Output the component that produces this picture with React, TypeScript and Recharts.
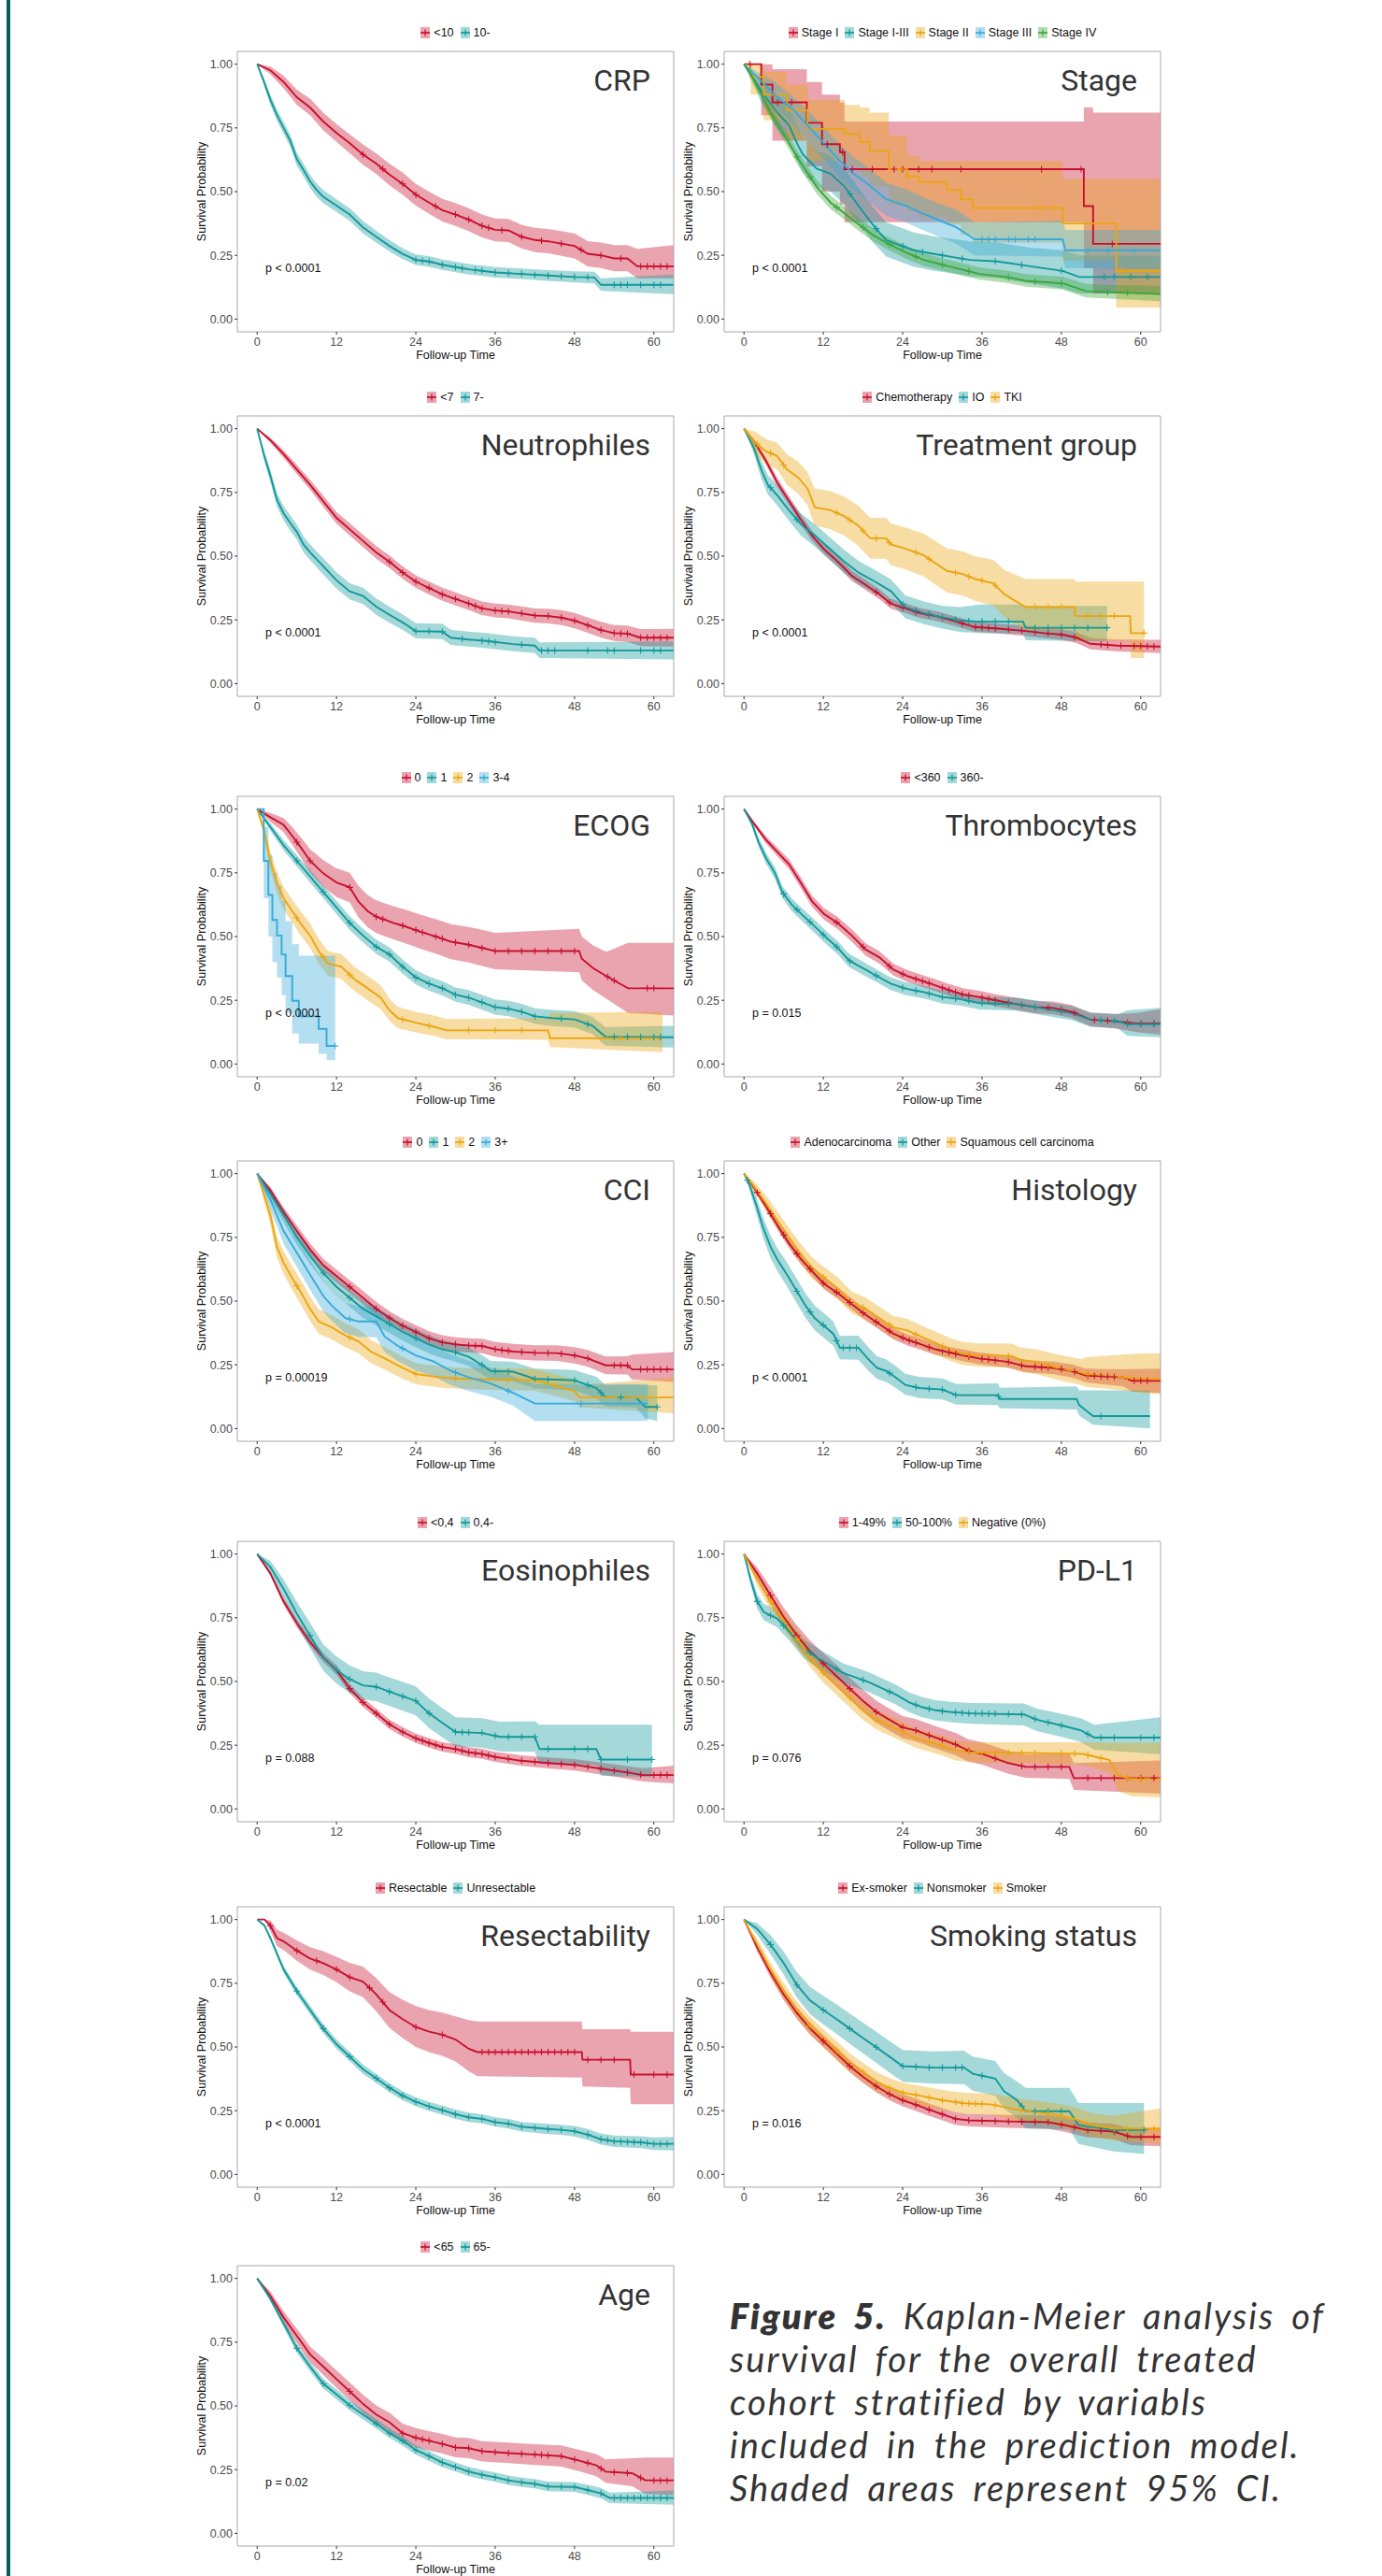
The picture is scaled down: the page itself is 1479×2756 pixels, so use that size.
import React from "react";
import { ComposedChart, XAxis, YAxis, Line, Area, Scatter, ReferenceArea } from "recharts";

// [time, survival, lower CI, upper CI]
type Pt = [number, number, number, number];
type Kind = "linear" | "stepAfter";

const RED = "#C8102E";
const TEAL = "#12999A";
const ORANGE = "#EBA511";
const BLUE = "#36AAD8";
const GREEN = "#3DA63D";
const PALETTE = [RED, TEAL, ORANGE, BLUE, GREEN];

const FONT = "'Liberation Sans', Arial, Helvetica, sans-serif";
const TITLE_FONT = "Roboto, 'Open Sans', sans-serif";
const CAPTION_FONT = "Lato, 'Open Sans', sans-serif";

const xTicks = [0, 12, 24, 36, 48, 60];
const yTicks = [0, 0.25, 0.5, 0.75, 1];

// ---- CRP ----
const crpNames = ["<10", "10-"];
const crpLow: Pt[] = [[0,1,1,1],[2,0.976,0.96,0.99],[4,0.93,0.905,0.955],[6,0.87,0.84,0.9],[8,0.83,0.8,0.865],[10,0.775,0.74,0.81],[12,0.73,0.695,0.765],[14,0.69,0.65,0.725],[16,0.646,0.605,0.685],[18,0.61,0.57,0.65],[20,0.567,0.525,0.61],[22,0.53,0.488,0.575],[24,0.488,0.445,0.53],[26,0.457,0.413,0.5],[28,0.427,0.383,0.472],[30,0.41,0.365,0.455],[32,0.39,0.345,0.435],[34,0.366,0.32,0.41],[36,0.35,0.305,0.395],[38,0.348,0.302,0.393],[40,0.323,0.277,0.37],[42,0.31,0.263,0.358],[44,0.305,0.258,0.353],[46,0.296,0.248,0.345],[48,0.287,0.238,0.336],[50,0.256,0.207,0.306],[52,0.25,0.2,0.3],[54,0.238,0.187,0.29],[56,0.238,0.187,0.29],[57.5,0.207,0.16,0.275],[63,0.207,0.16,0.29]];
const crpHigh: Pt[] = [[0,1,1,1],[1,0.933,0.92,0.946],[2,0.86,0.84,0.88],[3,0.8,0.778,0.822],[4,0.75,0.727,0.773],[5,0.7,0.676,0.724],[6,0.627,0.602,0.652],[7,0.585,0.56,0.61],[8,0.54,0.515,0.565],[9,0.506,0.48,0.532],[10,0.48,0.454,0.506],[12,0.445,0.42,0.47],[14,0.41,0.385,0.435],[16,0.36,0.336,0.385],[18,0.323,0.3,0.347],[20,0.287,0.265,0.31],[22,0.256,0.235,0.278],[24,0.232,0.212,0.253],[26,0.226,0.205,0.247],[28,0.213,0.193,0.234],[30,0.204,0.184,0.225],[32,0.195,0.175,0.216],[34,0.189,0.169,0.21],[36,0.183,0.163,0.204],[40,0.177,0.157,0.198],[44,0.171,0.15,0.192],[48,0.165,0.143,0.187],[51,0.163,0.14,0.186],[52,0.134,0.11,0.16],[63,0.134,0.098,0.175]];
const crpCens = [[16,19,22,24,27,30,32,34,35,37,40,43,46,49,52,55,58,59,60,61,62],[24,25,26,28,30,31,33,34,36,38,40,42,44,46,48,50,54,55,56,58,60,61]];

// ---- Stage ----
const stageNames = ["Stage I", "Stage I-III", "Stage II", "Stage III", "Stage IV"];
const stageKinds: Kind[] = ["stepAfter", "linear", "stepAfter", "linear", "linear"];
const stageI: Pt[] = [[0,1,1,1],[2.6,0.92,0.8,1],[4.3,0.85,0.7,0.98],[9.5,0.77,0.6,0.93],[11.8,0.686,0.5,0.88],[14.5,0.655,0.45,0.85],[15.2,0.588,0.38,0.775],[51.4,0.443,0.2,0.83],[52.8,0.295,0.1,0.81],[63,0.295,0.1,0.81]];
const stageI3: Pt[] = [[0,1,1,1],[2.6,0.896,0.85,0.94],[4.7,0.82,0.76,0.88],[6.8,0.76,0.69,0.83],[8.2,0.68,0.61,0.75],[8.9,0.646,0.575,0.715],[11,0.59,0.52,0.66],[13.1,0.57,0.5,0.64],[15.2,0.52,0.45,0.59],[17.3,0.445,0.375,0.515],[19.5,0.37,0.3,0.44],[20.8,0.33,0.265,0.4],[21.5,0.31,0.245,0.38],[23.6,0.29,0.225,0.36],[25.7,0.27,0.205,0.34],[28.6,0.256,0.19,0.325],[31.4,0.244,0.18,0.315],[34.2,0.232,0.168,0.305],[38.4,0.226,0.16,0.3],[43.3,0.207,0.14,0.28],[48.2,0.189,0.12,0.27],[50.7,0.165,0.1,0.25],[63,0.165,0.1,0.25]];
const stageII: Pt[] = [[0,1,1,1],[1,0.95,0.88,1],[3,0.88,0.78,0.97],[6.5,0.82,0.7,0.92],[9.6,0.746,0.62,0.86],[15.2,0.726,0.6,0.84],[17.5,0.695,0.56,0.83],[19,0.66,0.52,0.81],[21.9,0.588,0.45,0.72],[24.7,0.56,0.42,0.64],[26.5,0.537,0.4,0.62],[30.7,0.506,0.37,0.62],[32.8,0.47,0.33,0.62],[34.6,0.436,0.3,0.62],[48.2,0.375,0.23,0.55],[56.3,0.189,0.045,0.55],[63,0.189,0.045,0.55]];
const stageIII: Pt[] = [[0,1,1,1],[4.7,0.88,0.83,0.93],[7.5,0.82,0.76,0.87],[9.6,0.76,0.7,0.82],[11.7,0.7,0.635,0.765],[14.5,0.62,0.555,0.685],[16.6,0.57,0.505,0.635],[18.7,0.53,0.465,0.595],[21.5,0.47,0.405,0.535],[24.4,0.445,0.38,0.51],[26.5,0.42,0.355,0.485],[29.3,0.39,0.325,0.455],[32.1,0.36,0.295,0.43],[34.9,0.313,0.25,0.38],[48.2,0.313,0.245,0.385],[48.6,0.27,0.2,0.35],[63,0.27,0.195,0.35]];
const stageIV: Pt[] = [[0,1,1,1],[0.8,0.97,0.96,0.98],[2.6,0.884,0.865,0.903],[4,0.81,0.788,0.832],[5.4,0.75,0.726,0.774],[6.8,0.69,0.665,0.715],[8.2,0.628,0.602,0.654],[9.6,0.573,0.547,0.6],[11,0.518,0.492,0.545],[13.1,0.457,0.431,0.484],[15.2,0.415,0.39,0.442],[17.3,0.372,0.347,0.398],[19.5,0.33,0.306,0.356],[21.5,0.3,0.276,0.326],[24.4,0.262,0.238,0.288],[27.2,0.232,0.208,0.258],[30,0.213,0.19,0.238],[32.8,0.195,0.172,0.22],[35.6,0.177,0.154,0.202],[39.8,0.165,0.142,0.19],[42.6,0.15,0.127,0.176],[48.2,0.14,0.116,0.166],[51.7,0.11,0.085,0.138],[56.6,0.104,0.078,0.133],[63,0.098,0.07,0.13]];
const stageCens = [[0.9,5.1,7.2,12.6,14.9,16.4,19.4,22.7,24,26.4,28.4,32.8,45,51,55.7],[16,20,24,27,30,33,38,42,48,54.5,56,58.5,61],[23.8,24.8,44,45,47,57],[36,37,38,40,41,43,44,52,55,59],[8,10,14,18,22,26,30,34,40,44,48,55,58]];

// ---- Neutrophiles ----
const neuNames = ["<7", "7-"];
const neuLow: Pt[] = [[0,1,1,1],[2,0.955,0.945,0.965],[4,0.9,0.885,0.915],[6,0.84,0.822,0.858],[8,0.78,0.76,0.8],[10,0.715,0.693,0.737],[12,0.65,0.627,0.673],[14,0.605,0.581,0.629],[16,0.56,0.536,0.584],[18,0.515,0.49,0.54],[20,0.478,0.453,0.503],[22,0.436,0.411,0.461],[24,0.4,0.375,0.425],[26,0.375,0.35,0.4],[28,0.35,0.325,0.376],[30,0.332,0.307,0.358],[32,0.314,0.288,0.34],[34,0.295,0.269,0.322],[36,0.287,0.26,0.314],[38,0.283,0.256,0.31],[40,0.275,0.247,0.303],[42,0.267,0.239,0.295],[44,0.265,0.236,0.294],[46,0.259,0.23,0.288],[48,0.247,0.217,0.277],[50,0.229,0.199,0.26],[52,0.21,0.18,0.242],[54,0.198,0.167,0.23],[56,0.196,0.164,0.228],[58,0.18,0.147,0.214],[63,0.18,0.145,0.215]];
const neuHigh: Pt[] = [[0,1,1,1],[1,0.9,0.88,0.92],[2,0.814,0.79,0.838],[3,0.72,0.693,0.747],[4,0.668,0.64,0.696],[5,0.63,0.6,0.66],[6,0.595,0.565,0.625],[7,0.546,0.515,0.577],[8,0.515,0.484,0.546],[10,0.46,0.428,0.492],[12,0.405,0.373,0.437],[14,0.362,0.33,0.394],[16,0.344,0.312,0.376],[18,0.302,0.27,0.334],[20,0.27,0.239,0.302],[22,0.24,0.21,0.272],[24,0.206,0.177,0.237],[28,0.204,0.175,0.235],[29.3,0.18,0.152,0.211],[32,0.173,0.145,0.204],[34.7,0.167,0.139,0.198],[38.7,0.155,0.127,0.186],[42,0.149,0.12,0.18],[42.7,0.13,0.1,0.162],[63,0.13,0.095,0.165]];
const neuCens = [[20,22,24,26,28,30,32,33,34,36,37,38,40,42,44,46,48,50,52,54,55,56,58,59,60,61,62],[24,26,28,31,34,35,36,40,43,44,45,50,53,54,58,60,61]];

// ---- Treatment group ----
const treatNames = ["Chemotherapy", "IO", "TKI"];
const treatChemo: Pt[] = [[0,1,1,1],[1.5,0.95,0.94,0.96],[3.3,0.875,0.86,0.89],[5,0.79,0.772,0.808],[6.8,0.717,0.698,0.736],[8.6,0.643,0.623,0.663],[10.3,0.58,0.56,0.6],[12.1,0.527,0.507,0.547],[14.2,0.478,0.458,0.498],[16.3,0.423,0.403,0.443],[18.4,0.387,0.367,0.407],[20.5,0.35,0.33,0.37],[22.2,0.313,0.294,0.333],[24.4,0.295,0.276,0.315],[26.5,0.277,0.258,0.297],[29.3,0.263,0.244,0.283],[32.1,0.243,0.224,0.263],[34.9,0.222,0.203,0.242],[38.4,0.216,0.197,0.236],[41.9,0.208,0.188,0.228],[45.4,0.198,0.178,0.219],[48.2,0.192,0.171,0.213],[50.3,0.18,0.159,0.202],[52.4,0.156,0.134,0.179],[56.6,0.149,0.126,0.173],[63,0.145,0.12,0.172]];
const treatIO: Pt[] = [[0,1,1,1],[1.5,0.925,0.9,0.95],[2.6,0.84,0.805,0.875],[3.6,0.78,0.742,0.818],[5,0.74,0.7,0.78],[6.8,0.68,0.638,0.722],[8.6,0.625,0.582,0.668],[10.7,0.582,0.538,0.626],[12.8,0.533,0.488,0.578],[15.2,0.478,0.432,0.524],[17.3,0.436,0.39,0.482],[19.8,0.4,0.354,0.446],[22.2,0.363,0.317,0.409],[24.4,0.3,0.256,0.346],[27.2,0.277,0.233,0.322],[30,0.26,0.216,0.305],[32.8,0.247,0.202,0.3],[35.6,0.243,0.198,0.31],[42.2,0.243,0.196,0.31],[42.6,0.219,0.17,0.305],[54.9,0.219,0.165,0.305]];
const treatTKI: Pt[] = [[0,1,1,1],[1.5,0.95,0.91,0.99],[3.3,0.912,0.86,0.96],[5,0.893,0.84,0.945],[6.5,0.84,0.78,0.9],[8.2,0.808,0.745,0.87],[9.6,0.765,0.7,0.83],[10.7,0.692,0.62,0.765],[13.1,0.68,0.605,0.755],[15.2,0.656,0.58,0.733],[17.3,0.619,0.54,0.698],[19.1,0.57,0.49,0.65],[21.5,0.57,0.49,0.65],[22.2,0.546,0.465,0.628],[24.7,0.527,0.445,0.61],[27.2,0.503,0.42,0.588],[28.6,0.478,0.395,0.565],[30.7,0.442,0.358,0.53],[33.1,0.43,0.345,0.518],[34.9,0.411,0.325,0.5],[37.7,0.393,0.305,0.485],[39.4,0.35,0.262,0.445],[42.6,0.3,0.21,0.41],[50,0.3,0.205,0.41],[50.1,0.265,0.17,0.4],[58.4,0.265,0.165,0.4],[58.5,0.198,0.1,0.4],[60.5,0.198,0.1,0.4]];
const treatCens = [[20,22,24,26,28,30,33,35,36,37,38,40,42,44,46,48,50,54,55,57,59,60,61,62],[4,8,24,26,28,30,32,34,36,38,40,44,46,48,50,52,54.9],[2,4,6,14,16,18,20,22,26,28,32,34,36,38,44,46,48,52,54,56,60.5]];

// ---- ECOG ----
const ecogNames = ["0", "1", "2", "3-4"];
const ecogKinds: Kind[] = ["linear", "linear", "linear", "stepAfter"];
const ecog0: Pt[] = [[0,1,1,1],[2,0.968,0.95,0.985],[4,0.938,0.91,0.965],[5.3,0.895,0.86,0.93],[6.7,0.846,0.805,0.886],[8,0.797,0.75,0.843],[10,0.748,0.695,0.8],[12,0.712,0.655,0.768],[14,0.693,0.634,0.75],[15.3,0.638,0.576,0.7],[16.7,0.6,0.537,0.663],[18,0.578,0.514,0.642],[20.7,0.553,0.488,0.618],[22,0.543,0.477,0.609],[24.7,0.519,0.452,0.586],[27.3,0.498,0.43,0.566],[29.3,0.48,0.411,0.549],[32,0.468,0.398,0.538],[36,0.443,0.372,0.515],[48.7,0.443,0.36,0.53],[49.1,0.413,0.328,0.5],[50.8,0.376,0.29,0.465],[52.8,0.345,0.256,0.44],[56.1,0.297,0.2,0.475],[63,0.297,0.19,0.475]];
const ecog1: Pt[] = [[0,1,1,1],[2,0.93,0.915,0.945],[4,0.858,0.838,0.878],[6,0.797,0.775,0.82],[8,0.736,0.712,0.76],[10,0.675,0.65,0.7],[12,0.614,0.588,0.64],[14,0.553,0.526,0.58],[16,0.504,0.477,0.531],[18,0.46,0.432,0.488],[20,0.43,0.402,0.458],[22,0.382,0.354,0.41],[24,0.34,0.312,0.368],[26,0.315,0.287,0.343],[28,0.297,0.269,0.325],[30,0.272,0.244,0.3],[32,0.26,0.232,0.29],[34,0.242,0.213,0.272],[36,0.223,0.194,0.253],[38,0.217,0.187,0.248],[40,0.205,0.175,0.236],[42,0.187,0.157,0.219],[44.7,0.18,0.149,0.212],[48,0.175,0.143,0.208],[50.7,0.15,0.117,0.185],[52.7,0.107,0.072,0.145],[63,0.105,0.065,0.15]];
const ecog2: Pt[] = [[0,1,1,1],[1,0.92,0.895,0.945],[2,0.797,0.76,0.834],[3,0.712,0.67,0.754],[4,0.65,0.606,0.694],[5.3,0.6,0.555,0.645],[6.7,0.547,0.5,0.594],[8,0.504,0.456,0.552],[9.3,0.443,0.395,0.492],[10.7,0.394,0.346,0.443],[12.7,0.382,0.334,0.432],[14.7,0.333,0.286,0.382],[16.7,0.297,0.25,0.346],[18.7,0.26,0.215,0.308],[20,0.211,0.17,0.256],[21.3,0.18,0.14,0.224],[24,0.162,0.124,0.205],[26.7,0.146,0.11,0.19],[28.7,0.132,0.097,0.176],[44,0.132,0.095,0.18],[44.3,0.101,0.066,0.2],[61.3,0.101,0.046,0.205]];
const ecog34: Pt[] = [[0,1,1,1],[1,0.797,0.65,0.93],[1.7,0.663,0.5,0.82],[2.3,0.565,0.4,0.75],[3,0.504,0.34,0.7],[3.7,0.43,0.27,0.64],[4.3,0.345,0.2,0.56],[5.3,0.248,0.12,0.47],[6.3,0.187,0.08,0.425],[9.3,0.138,0.04,0.425],[10.5,0.071,0.015,0.425],[11.8,0.071,0.015,0.425]];
const ecogCens = [[6,8,14,18,19,22,24,25,27,28,30,32,34,36,38,40,42,44,46,48,53,54,59,60],[6,10,14,18,20,22,24,26,28,30,32,34,36,38,40,42,46,50,54,56,58,60,61],[6,10,14,22,26,32,36,40,55],[11.8]];

// ---- Thrombocytes ----
const thrNames = ["<360", "360-"];
const thrLow: Pt[] = [[0,1,1,1],[1.5,0.943,0.935,0.952],[3.3,0.88,0.866,0.894],[5,0.833,0.816,0.85],[6.8,0.784,0.765,0.803],[8.6,0.711,0.69,0.732],[10.3,0.638,0.616,0.66],[12.1,0.589,0.566,0.612],[14.2,0.552,0.528,0.576],[16.3,0.504,0.48,0.528],[18.4,0.449,0.425,0.473],[20.5,0.418,0.394,0.442],[22.6,0.37,0.347,0.394],[24.7,0.345,0.322,0.369],[26.8,0.327,0.304,0.351],[28.9,0.309,0.286,0.333],[31,0.29,0.267,0.314],[33.1,0.273,0.25,0.297],[35.6,0.263,0.24,0.287],[38.4,0.248,0.225,0.272],[41.2,0.235,0.211,0.26],[44,0.223,0.199,0.248],[46.8,0.22,0.195,0.245],[49.6,0.205,0.18,0.231],[52.4,0.174,0.148,0.201],[55.9,0.168,0.141,0.196],[59.4,0.159,0.125,0.2],[63,0.159,0.115,0.215]];
const thrHigh: Pt[] = [[0,1,1,1],[1.2,0.943,0.93,0.956],[2.2,0.87,0.852,0.888],[3.3,0.809,0.788,0.83],[4.7,0.748,0.725,0.771],[5.8,0.674,0.65,0.698],[7.2,0.626,0.601,0.651],[8.9,0.583,0.558,0.608],[10.7,0.54,0.514,0.566],[12.4,0.497,0.471,0.523],[14.2,0.455,0.429,0.481],[15.9,0.406,0.38,0.432],[18,0.376,0.35,0.402],[20.1,0.345,0.32,0.37],[22.2,0.315,0.29,0.34],[24.4,0.296,0.271,0.321],[27.2,0.282,0.257,0.307],[30,0.263,0.238,0.288],[32.8,0.254,0.229,0.279],[35.6,0.239,0.214,0.264],[41.2,0.235,0.209,0.261],[45.4,0.217,0.19,0.244],[49.6,0.199,0.172,0.227],[52.4,0.174,0.146,0.202],[56.6,0.168,0.139,0.197],[58,0.156,0.11,0.21],[63,0.156,0.105,0.22]];
const thrCens = [[14,18,22,24,26,27,28,30,31,32,33,34,36,37,38,40,42,44,46,48,50,53,55,58,60,62],[6,8,10,12,14,16,20,24,26,28,30,32,34,36,38,40,42,44,48,54,56,58,60,62]];

// ---- CCI ----
const cciNames = ["0", "1", "2", "3+"];
const cci0: Pt[] = [[0,1,1,1],[2,0.934,0.92,0.948],[4,0.849,0.83,0.868],[6,0.775,0.753,0.797],[8,0.702,0.678,0.726],[10,0.641,0.616,0.666],[12,0.598,0.572,0.624],[14,0.556,0.53,0.582],[16,0.513,0.487,0.54],[18,0.47,0.443,0.497],[20,0.434,0.407,0.461],[22,0.403,0.376,0.43],[24,0.379,0.352,0.406],[26,0.354,0.327,0.382],[28,0.338,0.31,0.366],[30,0.33,0.302,0.358],[32,0.326,0.298,0.354],[34,0.324,0.296,0.352],[36,0.311,0.282,0.34],[38.7,0.302,0.272,0.332],[42,0.297,0.267,0.327],[45.3,0.296,0.265,0.327],[48,0.287,0.255,0.319],[50,0.275,0.242,0.308],[52.7,0.248,0.213,0.283],[56,0.248,0.212,0.284],[56.7,0.232,0.192,0.29],[63,0.232,0.183,0.3]];
const cci1: Pt[] = [[0,1,1,1],[2,0.92,0.9,0.94],[4,0.836,0.81,0.862],[6,0.75,0.72,0.78],[8,0.677,0.645,0.709],[10,0.61,0.577,0.643],[12,0.556,0.522,0.59],[14,0.513,0.478,0.548],[16,0.47,0.435,0.505],[18,0.44,0.405,0.475],[20,0.41,0.375,0.445],[22,0.379,0.344,0.414],[24,0.354,0.319,0.39],[26,0.33,0.295,0.366],[28,0.311,0.276,0.347],[30,0.299,0.263,0.335],[32,0.281,0.245,0.318],[34,0.25,0.213,0.288],[35.3,0.226,0.19,0.265],[38.7,0.223,0.186,0.262],[42,0.195,0.157,0.235],[48,0.189,0.15,0.23],[49.3,0.177,0.137,0.219],[51.3,0.159,0.119,0.203],[52.7,0.122,0.085,0.17],[57.3,0.122,0.083,0.172],[58.7,0.085,0.04,0.17],[60.5,0.085,0.03,0.17]];
const cci2: Pt[] = [[0,1,1,1],[1,0.92,0.895,0.945],[2,0.836,0.8,0.872],[3,0.712,0.67,0.754],[4,0.65,0.605,0.695],[5.3,0.59,0.543,0.637],[6.7,0.53,0.482,0.578],[8,0.47,0.422,0.518],[9.3,0.42,0.372,0.468],[11.3,0.397,0.35,0.445],[13.3,0.366,0.319,0.414],[15.3,0.342,0.296,0.39],[17.3,0.3,0.255,0.346],[19.3,0.275,0.231,0.32],[22,0.238,0.196,0.282],[24,0.214,0.174,0.256],[28,0.2,0.16,0.243],[31.3,0.195,0.155,0.238],[42,0.189,0.148,0.233],[44.7,0.171,0.13,0.215],[48,0.147,0.107,0.193],[48.7,0.122,0.083,0.17],[63,0.122,0.06,0.2]];
const cci3: Pt[] = [[0,1,1,1],[2,0.897,0.86,0.934],[4,0.775,0.725,0.825],[6,0.69,0.635,0.745],[8,0.604,0.545,0.663],[10,0.52,0.46,0.58],[11.3,0.482,0.422,0.542],[13.3,0.434,0.374,0.494],[15.3,0.42,0.36,0.48],[18,0.42,0.358,0.482],[19.3,0.36,0.3,0.422],[21.3,0.324,0.264,0.386],[24,0.287,0.228,0.35],[26.7,0.263,0.205,0.326],[29.3,0.226,0.17,0.29],[32,0.201,0.147,0.265],[35.3,0.177,0.125,0.24],[38.7,0.14,0.09,0.205],[42,0.098,0.03,0.175],[59.1,0.098,0.03,0.175]];
const cciCens = [[14,18,20,22,24,26,28,30,32,33,34,36,37,38,40,42,44,46,48,50,54,55,56,58,59,60,61,62],[10,14,20,24,30,34,36,38,42,44,48,50,52,55,56,60.5],[6,14,24,30,38,45,56],[14,22,30,38,49]];

// ---- Histology ----
const histNames = ["Adenocarcinoma", "Other", "Squamous cell carcinoma"];
const histAdeno: Pt[] = [[0,1,1,1],[1.5,0.946,0.935,0.957],[3.3,0.873,0.858,0.888],[5,0.8,0.783,0.817],[6.8,0.727,0.708,0.746],[8.6,0.665,0.645,0.685],[10.3,0.617,0.596,0.638],[12.1,0.568,0.547,0.59],[14.2,0.531,0.509,0.553],[16.3,0.488,0.466,0.51],[18.4,0.446,0.424,0.468],[20.5,0.409,0.387,0.431],[22.6,0.372,0.35,0.394],[24.7,0.348,0.326,0.37],[26.8,0.33,0.308,0.352],[28.9,0.311,0.289,0.333],[31,0.299,0.277,0.321],[33.1,0.287,0.264,0.31],[35.6,0.275,0.252,0.298],[39.8,0.262,0.239,0.286],[42.6,0.244,0.22,0.268],[46.8,0.238,0.213,0.263],[49.6,0.226,0.2,0.252],[51.7,0.208,0.181,0.235],[57.3,0.201,0.165,0.232],[58.7,0.187,0.145,0.233],[63,0.187,0.14,0.235]];
const histOther: Pt[] = [[0,1,1,1],[0.8,0.958,0.94,0.976],[1.9,0.873,0.84,0.906],[2.9,0.788,0.748,0.828],[4,0.714,0.67,0.758],[5,0.665,0.62,0.71],[6.5,0.604,0.557,0.651],[7.9,0.543,0.495,0.591],[9.3,0.482,0.434,0.53],[10.7,0.433,0.385,0.482],[12.1,0.403,0.355,0.452],[13.5,0.372,0.325,0.42],[14.5,0.317,0.272,0.363],[17.3,0.317,0.27,0.364],[18.7,0.275,0.23,0.322],[20.1,0.238,0.195,0.284],[21.5,0.226,0.183,0.272],[22.9,0.201,0.16,0.246],[24.4,0.171,0.132,0.215],[26.5,0.159,0.12,0.203],[30,0.153,0.114,0.197],[32.1,0.131,0.094,0.175],[38.4,0.131,0.092,0.177],[38.7,0.116,0.079,0.16],[50.3,0.116,0.075,0.165],[50.7,0.092,0.05,0.15],[52.8,0.049,0.015,0.15],[61.4,0.049,0.0,0.15]];
const histSquam: Pt[] = [[0,1,1,1],[1.5,0.95,0.93,0.97],[3.3,0.885,0.855,0.915],[5,0.818,0.783,0.853],[6.8,0.75,0.712,0.788],[8.6,0.684,0.644,0.724],[10.3,0.63,0.589,0.671],[12.1,0.592,0.55,0.634],[14.2,0.55,0.507,0.593],[16.3,0.494,0.451,0.537],[18.4,0.47,0.427,0.514],[20.5,0.433,0.39,0.477],[22.6,0.397,0.354,0.441],[24.7,0.385,0.341,0.43],[26.8,0.36,0.316,0.405],[28.9,0.336,0.292,0.381],[31,0.311,0.267,0.357],[33.1,0.293,0.249,0.34],[35.6,0.287,0.242,0.334],[40.5,0.285,0.239,0.333],[41.9,0.269,0.222,0.318],[44,0.262,0.215,0.312],[47.5,0.238,0.19,0.29],[51,0.22,0.171,0.273],[51.7,0.214,0.164,0.28],[57.3,0.201,0.15,0.29],[60.1,0.195,0.14,0.295],[63,0.195,0.135,0.295]];
const histCens = [[2,4,6,8,10,12,14,16,18,20,22,24,25,26,28,30,31,32,34,36,37,38,40,42,44,45,46,48,50,52,53,54,55,56,59,60,61],[0.5,8,10,12,14,15,16,17,22,26,28,30,32,38.5,54],[12,18,22,26,30,34,40,46,52,58]];

// ---- Eosinophiles ----
const eosNames = ["<0,4", "0,4-"];
const eosLow: Pt[] = [[0,1,1,1],[2,0.924,0.914,0.934],[4,0.814,0.8,0.828],[6,0.729,0.713,0.745],[8,0.655,0.638,0.672],[10,0.594,0.576,0.612],[12,0.545,0.527,0.564],[14,0.472,0.454,0.491],[16,0.418,0.4,0.437],[18,0.375,0.357,0.394],[20,0.332,0.314,0.351],[22,0.302,0.284,0.321],[24,0.277,0.259,0.296],[26,0.259,0.241,0.278],[28,0.243,0.225,0.262],[30,0.235,0.216,0.254],[32,0.222,0.203,0.242],[34,0.216,0.197,0.236],[36,0.204,0.185,0.224],[40,0.189,0.169,0.21],[44,0.18,0.159,0.202],[48,0.173,0.151,0.196],[52,0.158,0.135,0.182],[56,0.143,0.119,0.168],[58.4,0.133,0.108,0.16],[63,0.133,0.1,0.17]];
const eosHigh: Pt[] = [[0,1,1,1],[2,0.949,0.925,0.973],[4,0.863,0.825,0.9],[6,0.766,0.72,0.812],[8,0.68,0.63,0.73],[10,0.594,0.542,0.646],[12,0.545,0.492,0.598],[14,0.509,0.455,0.563],[16,0.485,0.43,0.54],[18,0.479,0.423,0.535],[20,0.46,0.404,0.516],[22,0.442,0.385,0.499],[24,0.424,0.367,0.481],[26,0.375,0.318,0.433],[28,0.338,0.281,0.396],[30,0.302,0.246,0.36],[34,0.298,0.241,0.356],[36.7,0.283,0.226,0.342],[42,0.283,0.224,0.344],[42.7,0.235,0.176,0.33],[51.3,0.235,0.172,0.33],[52,0.194,0.13,0.33],[59.7,0.194,0.125,0.33]];
const eosCens = [[14,16,18,20,22,24,25,26,27,28,30,31,32,33,34,35,36,38,40,42,44,46,48,50,52,54,56,58,60,61,62],[8,12,14,18,20,22,24,26,30,31,32,34,36,38,40,42,44,48,50,52,56,59.7]];

// ---- PD-L1 ----
const pdl1Names = ["1-49%", "50-100%", "Negative (0%)"];
const pdl1Low: Pt[] = [[0,1,1,1],[2,0.924,0.9,0.948],[4,0.838,0.805,0.87],[6,0.753,0.715,0.79],[8,0.68,0.64,0.72],[10,0.619,0.578,0.66],[12,0.57,0.528,0.612],[14,0.521,0.478,0.564],[16,0.472,0.429,0.516],[18,0.424,0.381,0.468],[20,0.381,0.338,0.425],[22,0.35,0.307,0.394],[24,0.32,0.277,0.364],[26,0.308,0.265,0.352],[28,0.289,0.246,0.334],[30,0.271,0.228,0.316],[32,0.253,0.21,0.298],[34,0.228,0.186,0.273],[36,0.216,0.174,0.262],[40,0.18,0.138,0.228],[42.6,0.165,0.122,0.214],[49.2,0.165,0.118,0.218],[49.9,0.121,0.075,0.18],[63,0.121,0.06,0.19]];
const pdl1High: Pt[] = [[0,1,1,1],[1,0.9,0.88,0.92],[2,0.814,0.785,0.843],[3,0.772,0.74,0.804],[5,0.747,0.713,0.781],[7,0.692,0.656,0.728],[9,0.63,0.593,0.667],[11,0.594,0.556,0.632],[13,0.564,0.526,0.602],[15,0.533,0.495,0.571],[17,0.515,0.476,0.554],[19,0.496,0.457,0.535],[21,0.472,0.433,0.511],[23,0.448,0.409,0.487],[25,0.418,0.379,0.457],[27,0.399,0.36,0.439],[29,0.387,0.347,0.427],[31,0.381,0.341,0.421],[34.3,0.375,0.334,0.416],[42.3,0.371,0.328,0.414],[44.3,0.35,0.306,0.394],[48.3,0.326,0.281,0.372],[51,0.308,0.262,0.355],[53,0.28,0.232,0.33],[63,0.28,0.215,0.36]];
const pdl1Neg: Pt[] = [[0,1,1,1],[2,0.9,0.875,0.925],[4,0.814,0.783,0.845],[6,0.741,0.707,0.775],[8,0.668,0.632,0.704],[10,0.594,0.557,0.631],[12,0.533,0.495,0.571],[14,0.485,0.447,0.523],[16,0.436,0.398,0.475],[18,0.387,0.349,0.426],[20,0.35,0.312,0.389],[22,0.326,0.288,0.365],[24,0.302,0.264,0.341],[26,0.277,0.24,0.316],[28,0.263,0.225,0.302],[30,0.247,0.209,0.286],[32,0.228,0.19,0.268],[34,0.222,0.184,0.262],[45,0.219,0.178,0.262],[51.3,0.216,0.172,0.262],[55.3,0.192,0.142,0.26],[56.6,0.131,0.07,0.26],[58.6,0.118,0.05,0.26],[63,0.118,0.045,0.26]];
const pdl1Cens = [[4,8,12,16,20,24,26,28,30,32,34,38,42,44,46,48,52,54,56,58,60,62],[2,4,6,10,14,18,22,26,28,30,32,33,34,35,36,37,38,40,42,44,46,48,52,54,56,60,62],[4,8,12,16,20,24,28,30,34,36,38,40,42,44,48,50,52,54,58,60]];

// ---- Resectability ----
const resNames = ["Resectable", "Unresectable"];
const resYes: Pt[] = [[0,1,1,1],[1.1,1,1,1],[2,0.976,0.955,0.997],[3,0.927,0.895,0.96],[4,0.914,0.88,0.948],[6,0.878,0.838,0.918],[8,0.847,0.803,0.891],[10,0.829,0.782,0.876],[12,0.804,0.754,0.854],[14,0.774,0.718,0.83],[16,0.756,0.695,0.815],[18,0.707,0.64,0.77],[20,0.645,0.575,0.715],[22,0.609,0.535,0.685],[24,0.578,0.5,0.66],[26,0.56,0.48,0.645],[28,0.548,0.465,0.635],[30,0.529,0.443,0.62],[32,0.493,0.405,0.605],[33.3,0.48,0.385,0.6],[49.1,0.48,0.38,0.6],[49.2,0.45,0.345,0.57],[56.4,0.45,0.34,0.57],[56.5,0.392,0.275,0.56],[63,0.392,0.275,0.56]];
const resNo: Pt[] = [[0,1,1,1],[1.1,0.976,0.97,0.982],[2,0.927,0.918,0.936],[4,0.804,0.79,0.818],[6,0.719,0.703,0.735],[8,0.645,0.628,0.662],[10,0.572,0.554,0.59],[12,0.511,0.493,0.529],[14,0.462,0.444,0.48],[16,0.413,0.395,0.431],[18,0.377,0.359,0.395],[20,0.34,0.322,0.358],[22,0.309,0.291,0.327],[24,0.285,0.267,0.303],[26,0.267,0.249,0.285],[28,0.252,0.234,0.27],[30,0.236,0.218,0.254],[32,0.224,0.206,0.242],[34,0.218,0.2,0.236],[36,0.205,0.187,0.224],[38,0.199,0.18,0.218],[40,0.187,0.168,0.206],[42,0.183,0.164,0.202],[44,0.178,0.158,0.198],[46,0.175,0.155,0.195],[48,0.169,0.148,0.19],[50,0.156,0.135,0.178],[52,0.138,0.117,0.16],[54,0.13,0.108,0.153],[58,0.126,0.103,0.15],[60,0.12,0.096,0.145],[63,0.12,0.094,0.147]];
const resCens = [[2,6,9,12,14,17,19,24,28,34,35,36,37,38,39,40,41,42,43,44,45,46,47,48,50,52,54,57,60,62],[6,10,14,18,20,22,24,26,28,30,32,34,36,38,40,42,44,46,48,50,52,53,54,55,56,57,58,59,60,61,62]];

// ---- Smoking status ----
const smokeNames = ["Ex-smoker", "Nonsmoker", "Smoker"];
const smokeEx: Pt[] = [[0,1,1,1],[2,0.89,0.874,0.906],[4,0.792,0.772,0.812],[6,0.706,0.684,0.728],[8,0.633,0.61,0.656],[10,0.572,0.548,0.596],[12,0.523,0.499,0.547],[14,0.474,0.45,0.498],[16,0.425,0.401,0.449],[18,0.383,0.359,0.407],[20,0.346,0.322,0.37],[22,0.315,0.291,0.339],[24,0.291,0.267,0.315],[26,0.273,0.249,0.297],[28,0.254,0.23,0.278],[30,0.236,0.212,0.26],[32,0.218,0.194,0.243],[34,0.212,0.188,0.237],[40,0.208,0.183,0.233],[46,0.205,0.179,0.231],[48.6,0.193,0.166,0.22],[51.9,0.174,0.146,0.203],[55.9,0.168,0.139,0.198],[58.5,0.147,0.115,0.18],[63,0.147,0.11,0.185]];
const smokeNon: Pt[] = [[0,1,1,1],[2,0.963,0.94,0.986],[4,0.902,0.865,0.939],[6,0.829,0.784,0.874],[8,0.743,0.693,0.793],[10,0.682,0.628,0.736],[12,0.645,0.589,0.701],[14,0.609,0.551,0.667],[16,0.572,0.513,0.631],[18,0.535,0.475,0.595],[20,0.499,0.438,0.56],[22,0.462,0.4,0.524],[24,0.425,0.363,0.488],[28.6,0.419,0.356,0.483],[33.3,0.419,0.354,0.485],[34.6,0.395,0.329,0.462],[38,0.376,0.308,0.445],[39.3,0.327,0.258,0.398],[41.3,0.291,0.222,0.364],[42.6,0.248,0.18,0.34],[49.2,0.248,0.176,0.34],[50.6,0.193,0.12,0.28],[55.9,0.174,0.09,0.28],[60.5,0.174,0.08,0.28]];
const smokeCur: Pt[] = [[0,1,1,1],[2,0.902,0.88,0.924],[4,0.804,0.776,0.832],[6,0.719,0.688,0.75],[8,0.645,0.612,0.678],[10,0.584,0.55,0.618],[12,0.535,0.5,0.57],[14,0.487,0.451,0.523],[16,0.438,0.402,0.475],[18,0.401,0.364,0.438],[20,0.364,0.327,0.402],[22,0.34,0.302,0.378],[24,0.321,0.283,0.36],[26.6,0.309,0.27,0.348],[30,0.291,0.251,0.331],[33.3,0.279,0.238,0.32],[37.3,0.275,0.233,0.317],[41.3,0.254,0.211,0.298],[46.6,0.236,0.192,0.281],[50,0.218,0.173,0.264],[52.6,0.193,0.147,0.24],[55.9,0.181,0.134,0.23],[63,0.178,0.12,0.26]];
const smokeCens = [[12,16,20,22,24,26,28,30,32,34,36,38,40,42,44,46,48,50,52,54,56,58,60,62],[4,8,12,16,20,24,26,28,30,32,33,36,42,44,46,48,52,56,60.5],[10,14,18,22,24,26,28,30,32,33,34,35,36,38,42,46,48,52,56,58,62]];

// ---- Age ----
const ageNames = ["<65", "65-"];
const ageYoung: Pt[] = [[0,1,1,1],[2,0.932,0.915,0.949],[4,0.847,0.823,0.871],[6,0.775,0.747,0.803],[8,0.702,0.671,0.733],[10,0.654,0.621,0.687],[12,0.605,0.571,0.639],[14,0.557,0.522,0.592],[16,0.508,0.472,0.544],[18,0.466,0.43,0.502],[20,0.436,0.4,0.473],[22,0.393,0.356,0.43],[24,0.375,0.338,0.413],[26,0.363,0.325,0.401],[28,0.351,0.313,0.39],[30,0.337,0.298,0.376],[32,0.334,0.295,0.374],[34,0.322,0.282,0.362],[38,0.315,0.275,0.356],[42,0.309,0.268,0.35],[46,0.303,0.262,0.345],[48.7,0.285,0.243,0.328],[51.3,0.267,0.224,0.311],[52.7,0.242,0.198,0.29],[56.7,0.236,0.185,0.295],[58.7,0.208,0.155,0.297],[63,0.208,0.15,0.297]];
const ageOld: Pt[] = [[0,1,1,1],[2,0.92,0.91,0.93],[4,0.823,0.808,0.838],[6,0.726,0.709,0.743],[8,0.654,0.636,0.672],[10,0.587,0.568,0.606],[12,0.545,0.526,0.564],[14,0.502,0.483,0.521],[16,0.466,0.447,0.485],[18,0.43,0.411,0.449],[20,0.393,0.374,0.412],[22,0.363,0.344,0.382],[24,0.327,0.308,0.346],[26,0.303,0.284,0.322],[28,0.278,0.26,0.297],[30,0.26,0.242,0.279],[32,0.242,0.224,0.261],[34,0.23,0.212,0.249],[36,0.22,0.202,0.239],[38,0.208,0.19,0.227],[40,0.2,0.182,0.219],[42,0.194,0.176,0.213],[44,0.184,0.165,0.203],[48,0.182,0.163,0.201],[50,0.17,0.151,0.19],[52,0.157,0.137,0.178],[53.3,0.139,0.119,0.16],[63,0.139,0.112,0.168]];
const ageCens = [[14,22,24,25,26,28,30,32,34,36,38,40,42,43,44,46,48,50,52,54,56,58,60,61,62],[6,10,14,18,20,22,24,26,28,30,32,34,36,38,40,42,44,46,48,50,52,54,55,56,57,58,59,60,61,62]];

// ---- caption ----
const captionLead = "Figure 5.";
const captionLines = [
  " Kaplan-Meier analysis of",
  "survival for the overall treated",
  "cohort stratified by variabls",
  "included in the prediction model.",
  "Shaded areas represent 95% CI.",
];

// ---- layout ----
const Y_W = 54;
const PLOT_W = 467;
const PLOT_H = 300;
const TOP_M = 30;
const X_H = 40;
const CHART_W = Y_W + PLOT_W + 1;
const CHART_H = TOP_M + PLOT_H + X_H;
const Y_MIN = -0.05;
const Y_MAX = 1.05;

const yPix = (v: number) => TOP_M + ((Y_MAX - v) / (Y_MAX - Y_MIN)) * PLOT_H;

function survAt(pts: Pt[], kind: Kind, t: number): number {
  let prev = pts[0];
  for (const p of pts) {
    if (p[0] > t) {
      if (kind === "linear" && p[0] > prev[0]) {
        const f = (t - prev[0]) / (p[0] - prev[0]);
        return prev[1] + f * (p[1] - prev[1]);
      }
      return prev[1];
    }
    prev = p;
  }
  return prev[1];
}

function buildRows(curves: Pt[][]) {
  const map = new Map<number, Record<string, any>>();
  curves.forEach((c, i) =>
    c.forEach(([t, s, lo, hi]) => {
      const row = map.get(t) ?? { t };
      row[`s${i}`] = s;
      row[`b${i}`] = [lo, hi];
      map.set(t, row);
    })
  );
  return [...map.values()].sort((a, b) => a.t - b.t);
}

function Cross(props: any) {
  const { cx, cy, fill } = props;
  if (cx == null || cy == null) return null;
  return (
    <path
      d={`M${cx - 3.5},${cy}H${cx + 3.5}M${cx},${cy - 3.5}V${cy + 3.5}`}
      stroke={fill}
      strokeWidth={1.1}
      fill="none"
    />
  );
}

interface PanelProps {
  plotLeft: number;
  panelTop: number;
  title: string;
  pval: string;
  names: string[];
  curves: Pt[][];
  censors: number[][];
  kinds?: Kind[];
}

function KmPanel({ plotLeft, panelTop, title, pval, names, curves, censors, kinds }: PanelProps) {
  const rows = buildRows(curves);
  const kindOf = (i: number): Kind => (kinds ? kinds[i] : "linear");
  const tickStyle = { fontSize: 12.5, fill: "#4d4d4d", fontFamily: FONT };

  return (
    <div
      style={{
        position: "absolute",
        left: plotLeft - Y_W,
        top: panelTop - TOP_M,
        width: CHART_W,
        height: CHART_H,
      }}
    >
      <ComposedChart
        width={CHART_W}
        height={CHART_H}
        data={rows}
        margin={{ top: TOP_M, right: 1, bottom: 0, left: 0 }}
      >
        <XAxis
          dataKey="t"
          type="number"
          domain={[-3, 63]}
          ticks={xTicks}
          allowDataOverflow
          axisLine={false}
          tickSize={3}
          tickMargin={3}
          tickLine={{ stroke: "#333" }}
          tick={tickStyle}
          height={X_H}
          interval={0}
        />
        <YAxis
          type="number"
          domain={[Y_MIN, Y_MAX]}
          ticks={yTicks}
          allowDataOverflow
          axisLine={false}
          tickSize={3}
          tickMargin={2}
          tickLine={{ stroke: "#333" }}
          tick={tickStyle}
          tickFormatter={(v: number) => v.toFixed(2)}
          width={Y_W}
          interval={0}
        />
        {curves.map((_, i) => (
          <Area
            key={`b${i}`}
            dataKey={`b${i}`}
            type={kindOf(i)}
            stroke="none"
            fill={PALETTE[i]}
            fillOpacity={0.38}
            connectNulls
            dot={false}
            activeDot={false}
            isAnimationActive={false}
          />
        ))}
        {curves.map((_, i) => (
          <Line
            key={`s${i}`}
            dataKey={`s${i}`}
            type={kindOf(i)}
            stroke={PALETTE[i]}
            strokeWidth={1.9}
            connectNulls
            dot={false}
            activeDot={false}
            isAnimationActive={false}
          />
        ))}
        {curves.map((c, i) => (
          <Scatter
            key={`c${i}`}
            data={censors[i]
              .filter((t) => t <= c[c.length - 1][0])
              .map((t) => ({ t, v: survAt(c, kindOf(i), t) }))}
            dataKey="v"
            fill={PALETTE[i]}
            shape={Cross}
            isAnimationActive={false}
          />
        ))}
        <ReferenceArea
          x1={-3}
          x2={63}
          y1={Y_MIN}
          y2={Y_MAX}
          fill="none"
          stroke="#a8a8a8"
          strokeWidth={1}
        />
      </ComposedChart>

      <svg
        width={CHART_W}
        height={CHART_H}
        style={{ position: "absolute", left: 0, top: 0, pointerEvents: "none" }}
      >
        <text
          x={Y_W + PLOT_W - 25}
          y={TOP_M + 42}
          textAnchor="end"
          fontSize={32}
          fontFamily={TITLE_FONT}
          fill="#333"
        >
          {title}
        </text>
        <text x={Y_W + 30} y={yPix(0.2) + 4.5} fontSize={12.5} fontFamily={FONT} fill="#111">
          {pval}
        </text>
        <text
          x={16}
          y={TOP_M + PLOT_H / 2}
          transform={`rotate(-90 16 ${TOP_M + PLOT_H / 2})`}
          textAnchor="middle"
          dominantBaseline="central"
          fontSize={12.5}
          fontFamily={FONT}
          fill="#111"
        >
          Survival Probability
        </text>
        <text
          x={Y_W + PLOT_W / 2}
          y={TOP_M + PLOT_H + 28.5}
          textAnchor="middle"
          fontSize={12.5}
          fontFamily={FONT}
          fill="#111"
        >
          Follow-up Time
        </text>
      </svg>

      <div
        style={{
          position: "absolute",
          left: Y_W,
          top: 0,
          width: PLOT_W,
          height: 20,
          display: "flex",
          justifyContent: "center",
          alignItems: "center",
          fontFamily: FONT,
          fontSize: 12.5,
          color: "#111",
          whiteSpace: "nowrap",
        }}
      >
        {names.map((n, i) => (
          <span
            key={n}
            style={{
              display: "inline-flex",
              alignItems: "center",
              marginRight: i < names.length - 1 ? 7 : 0,
            }}
          >
            <svg width={10} height={12} style={{ marginRight: 4 }}>
              <rect x={0} y={0} width={10} height={12} fill={PALETTE[i]} fillOpacity={0.38} />
              <line x1={0} y1={6} x2={10} y2={6} stroke={PALETTE[i]} strokeWidth={1.7} />
              <line x1={5} y1={2.5} x2={5} y2={9.5} stroke={PALETTE[i]} strokeWidth={1.2} />
            </svg>
            {n}
          </span>
        ))}
      </div>
    </div>
  );
}

const rowTops = [55, 445, 852, 1242, 1649, 2040, 2424];
const colLefts = [254, 775];

export default function App() {
  return (
    <div
      style={{
        position: "absolute",
        left: 0,
        top: 0,
        width: 1479,
        height: 2756,
        background: "#fff",
        overflow: "hidden",
      }}
    >
      <div style={{ position: "absolute", left: 7, top: 0, width: 4, height: 2756, background: "#0b5a5d" }} />

      <KmPanel plotLeft={colLefts[0]} panelTop={rowTops[0]} title="CRP" pval="p < 0.0001" names={crpNames} curves={[crpLow, crpHigh]} censors={crpCens} />
      <KmPanel plotLeft={colLefts[1]} panelTop={rowTops[0]} title="Stage" pval="p < 0.0001" names={stageNames} curves={[stageI, stageI3, stageII, stageIII, stageIV]} censors={stageCens} kinds={stageKinds} />

      <KmPanel plotLeft={colLefts[0]} panelTop={rowTops[1]} title="Neutrophiles" pval="p < 0.0001" names={neuNames} curves={[neuLow, neuHigh]} censors={neuCens} />
      <KmPanel plotLeft={colLefts[1]} panelTop={rowTops[1]} title="Treatment group" pval="p < 0.0001" names={treatNames} curves={[treatChemo, treatIO, treatTKI]} censors={treatCens} />

      <KmPanel plotLeft={colLefts[0]} panelTop={rowTops[2]} title="ECOG" pval="p < 0.0001" names={ecogNames} curves={[ecog0, ecog1, ecog2, ecog34]} censors={ecogCens} kinds={ecogKinds} />
      <KmPanel plotLeft={colLefts[1]} panelTop={rowTops[2]} title="Thrombocytes" pval="p = 0.015" names={thrNames} curves={[thrLow, thrHigh]} censors={thrCens} />

      <KmPanel plotLeft={colLefts[0]} panelTop={rowTops[3]} title="CCI" pval="p = 0.00019" names={cciNames} curves={[cci0, cci1, cci2, cci3]} censors={cciCens} />
      <KmPanel plotLeft={colLefts[1]} panelTop={rowTops[3]} title="Histology" pval="p < 0.0001" names={histNames} curves={[histAdeno, histOther, histSquam]} censors={histCens} />

      <KmPanel plotLeft={colLefts[0]} panelTop={rowTops[4]} title="Eosinophiles" pval="p = 0.088" names={eosNames} curves={[eosLow, eosHigh]} censors={eosCens} />
      <KmPanel plotLeft={colLefts[1]} panelTop={rowTops[4]} title="PD-L1" pval="p = 0.076" names={pdl1Names} curves={[pdl1Low, pdl1High, pdl1Neg]} censors={pdl1Cens} />

      <KmPanel plotLeft={colLefts[0]} panelTop={rowTops[5]} title="Resectability" pval="p < 0.0001" names={resNames} curves={[resYes, resNo]} censors={resCens} />
      <KmPanel plotLeft={colLefts[1]} panelTop={rowTops[5]} title="Smoking status" pval="p = 0.016" names={smokeNames} curves={[smokeEx, smokeNon, smokeCur]} censors={smokeCens} />

      <KmPanel plotLeft={colLefts[0]} panelTop={rowTops[6]} title="Age" pval="p = 0.02" names={ageNames} curves={[ageYoung, ageOld]} censors={ageCens} />

      <div
        style={{
          position: "absolute",
          left: 781,
          top: 2454,
          width: 690,
          fontFamily: CAPTION_FONT,
          fontStyle: "italic",
          fontSize: 38,
          lineHeight: "46px",
          letterSpacing: "2.1px",
          wordSpacing: "7px",
          color: "#333",
          whiteSpace: "nowrap",
        }}
      >
        {captionLines.map((line, i) => (
          <div key={i} style={{ height: 46 }}>
            {i === 0 && <span style={{ fontWeight: 800 }}>{captionLead}</span>}
            {line}
          </div>
        ))}
      </div>
    </div>
  );
}
